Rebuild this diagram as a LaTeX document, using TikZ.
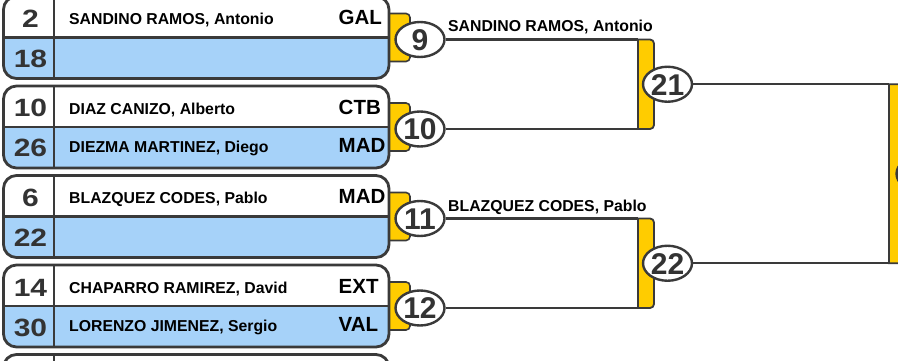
\documentclass[tikz,border=0pt]{standalone}
\usepackage{fontspec}
\setmainfont{Liberation Sans}
\newfontfamily\numfont[FakeStretch=1.2]{Liberation Sans}
\usetikzlibrary{shapes.geometric}
\definecolor{rowblue}{HTML}{A6D2F9}
\definecolor{tabyellow}{HTML}{FFCC00}
\definecolor{linegray}{HTML}{3A3A3A}
\definecolor{numgray}{HTML}{333333}
\newcommand\mnum[1]{\makebox[0pt]{\raisebox{-0.36em}[0pt][0pt]{#1}}}
\tikzset{
  boxline/.style={draw=linegray, line width=2.8pt},
  divline/.style={draw=linegray, line width=2.4pt},
  tabst/.style={fill=tabyellow, draw=linegray, line width=1.6pt},
  barst/.style={fill=tabyellow, draw=linegray, line width=1.8pt},
  conn/.style={draw=linegray, line width=2.4pt},
  seedst/.style={anchor=base, inner sep=0pt, text=numgray, font=\numfont\bfseries\fontsize{25}{25}\selectfont},
  namest/.style={anchor=base west, inner sep=0pt, font=\bfseries\fontsize{15.8}{16}\selectfont},
  teamst/.style={anchor=base west, inner sep=0pt, font=\bfseries\fontsize{20.5}{21}\selectfont},
  match/.style={ellipse, draw=linegray, line width=2.4pt, fill=white, minimum width=49pt,
    minimum height=35pt, inner sep=0pt, text=numgray, font=\bfseries\fontsize{30}{30}\selectfont},
}
% #1 top (px), #2 seed A, #3 name A, #4 team A, #5 seed B, #6 name B, #7 team B, #8 id
\newcommand\drawentry[8]{%
  \pgfmathsetmacro\tp{-(#1)}%
  \pgfmathsetmacro\dv{-(#1)-41}%
  \pgfmathsetmacro\bt{-(#1)-82}%
  \draw[tabst, rounded corners=4pt] (380,\dv+24) rectangle (410,\dv-24);
  \begin{scope}
    \clip[rounded corners=13pt] (3.5,\tp) rectangle (389,\bt);
    \fill[white] (0,\tp) rectangle (400,\dv);
    \fill[rowblue] (0,\dv) rectangle (400,\bt);
  \end{scope}
  \draw[divline] (3.5,\dv) -- (389,\dv);
  \draw[divline] (54,\tp) -- (54,\bt);
  \draw[boxline, rounded corners=13pt] (3.5,\tp) rectangle (389,\bt);
  \node[seedst] (s#8a) at (30.5,\tp-31) {#2};
  \node[seedst] (s#8b) at (30.5,\dv-30) {#5};
  \node[namest] (n#8a) at (69,\tp-28) {#3};
  \node[namest] (n#8b) at (69,\dv-25) {#6};
  \node[teamst] (t#8a) at (338.5,\tp-28) {#4};
  \node[teamst] (t#8b) at (338.5,\dv-25) {#7};
}
\begin{document}
\begin{tikzpicture}[x=1pt,y=1pt]
\useasboundingbox (0,0) rectangle (898,-361);
\clip (0,0) rectangle (898,-361);
\fill[white] (0,0) rectangle (898,-361);

\drawentry{-3.5}{2}{SANDINO RAMOS, Antonio}{GAL}{18}{}{}{1}
\drawentry{86}{10}{DIAZ CANIZO, Alberto}{CTB}{26}{DIEZMA MARTINEZ, Diego}{MAD}{2}
\drawentry{175.5}{6}{BLAZQUEZ CODES, Pablo}{MAD}{22}{}{}{3}
\drawentry{265}{14}{CHAPARRO RAMIREZ, David}{EXT}{30}{LORENZO JIMENEZ, Sergio}{VAL}{4}
\drawentry{354.5}{}{}{}{}{}{}{5}

% first-round matches
\node[match] (m9) at (420,-39.5) {\mnum{9}};
\node[match] (m10) at (420,-129) {\mnum{10}};
\node[match] (m11) at (420,-218.5) {\mnum{11}};
\node[match] (m12) at (420,-308) {\mnum{12}};

% bar corner coordinates
\coordinate (b21t) at (638,-39.5);
\coordinate (b21b) at (638,-129);
\coordinate (b22t) at (638,-218.5);
\coordinate (b22b) at (638,-308);
\coordinate (bft) at (889,-84.25);
\coordinate (bfb) at (889,-263.25);

% connectors
\draw[conn] (m9.east) -- (b21t);
\draw[conn] (m10.east) -- (b21b);
\draw[conn] (m11.east) -- (b22t);
\draw[conn] (m12.east) -- (b22b);

% second-round bars
\draw[barst] (638,-39.5) -- (650,-39.5) arc[start angle=90,end angle=0,radius=4]
  -- (654,-125) arc[start angle=0,end angle=-90,radius=4] -- (638,-129) -- cycle;
\draw[barst] (638,-218.5) -- (650,-218.5) arc[start angle=90,end angle=0,radius=4]
  -- (654,-304) arc[start angle=0,end angle=-90,radius=4] -- (638,-308) -- cycle;

\node[match] (m21) at (667.5,-84.25) {\mnum{21}};
\node[match] (m22) at (667.5,-263.25) {\mnum{22}};

\draw[conn] (m21.east) -- (bft);
\draw[conn] (m22.east) -- (bfb);

% final bar
\draw[barst] (889,-84.25) -- (901,-84.25) arc[start angle=90,end angle=0,radius=4]
  -- (905,-259.25) arc[start angle=0,end angle=-90,radius=4] -- (889,-263.25) -- cycle;
\node[match] (mf) at (921,-173.75) {};

% winner labels
\node[namest] (w9) at (448,-32) {SANDINO RAMOS, Antonio};
\node[namest] (w11) at (448,-211) {BLAZQUEZ CODES, Pablo};
\end{tikzpicture}
\end{document}
